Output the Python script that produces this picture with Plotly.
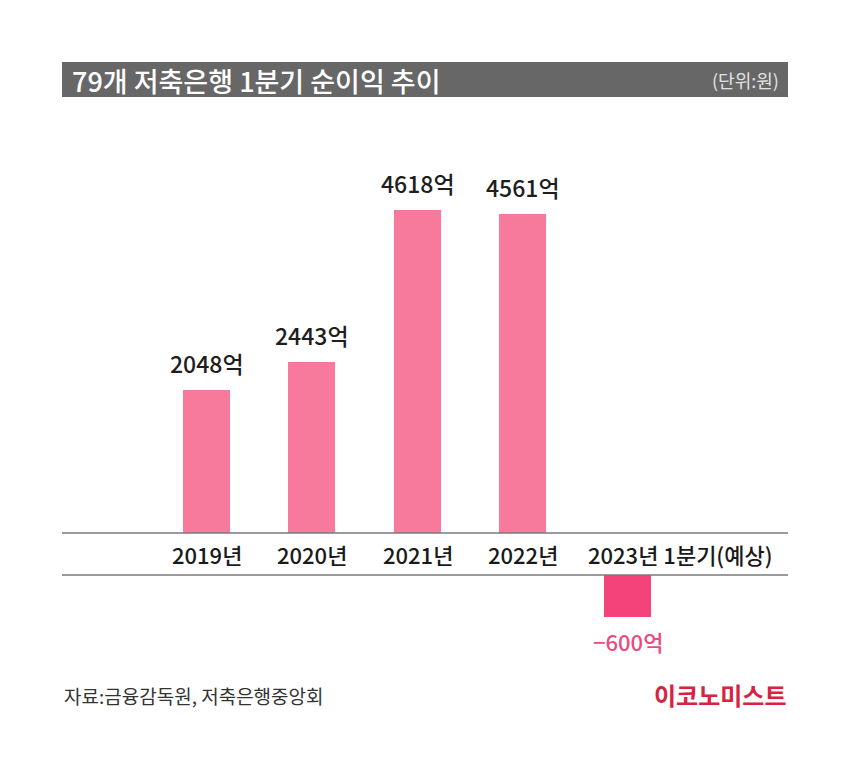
import plotly.graph_objects as go

categories = ['2019년', '2020년', '2021년', '2022년', '2023년 1분기(예상)']
net_income = [2048, 2443, 4618, 4561, -600]
value_labels = ['2048억', '2443억', '4618억', '4561억', '−600억']

FONT = 'Noto Sans CJK KR'
W, H = 850, 777
PAGE_OFFSET = 8  # default body margin of the page


def px_y(y):
    # screen pixel row -> paper fraction
    return 1 - (y - PAGE_OFFSET) / H


def px_x(x):
    return (x - PAGE_OFFSET) / W


pos = [v if v > 0 else None for v in net_income]
neg = [v if v < 0 else None for v in net_income]

fig = go.Figure()

fig.add_trace(go.Bar(
    x=categories, y=pos, width=0.447,
    marker=dict(color='#F77A9D', line=dict(width=0)),
    xaxis='x', yaxis='y', showlegend=False, hoverinfo='skip'
))
fig.add_trace(go.Bar(
    x=categories, y=neg, width=0.447,
    marker=dict(color='#F4427A', line=dict(width=0)),
    xaxis='x2', yaxis='y2', showlegend=False, hoverinfo='skip'
))

annotations = []

# value labels
for cat, v, lab in zip(categories, net_income, value_labels):
    if v > 0:
        annotations.append(dict(
            x=cat, y=v, xref='x', yref='y', text=lab, showarrow=False,
            yanchor='bottom', yshift=8,
            font=dict(family=FONT, size=23, color='#1e1e1e', weight=500)))
    else:
        annotations.append(dict(
            x=cat, y=v, xref='x2', yref='y2', text=lab, showarrow=False,
            yanchor='top', yshift=-6,
            font=dict(family=FONT, size=22, color='#EC4A7D', weight=500)))

# category labels in the band between the two rules
for i, cat in enumerate(categories):
    last = i == len(categories) - 1
    annotations.append(dict(
        x=cat, y=px_y(554), xref='x', yref='paper', text=cat, showarrow=False,
        xanchor='left' if last else 'center', xshift=-42 if last else 0,
        yanchor='middle',
        font=dict(family=FONT, size=22, color='#1a1a1a', weight=500)))

# title and unit
annotations.append(dict(
    x=px_x(70), y=px_y(80), xref='paper', yref='paper',
    text='79개 저축은행 1분기 순이익 추이', showarrow=False,
    xanchor='left', yanchor='middle',
    font=dict(family=FONT, size=27, color='white', weight=500)))
annotations.append(dict(
    x=px_x(781), y=px_y(80), xref='paper', yref='paper',
    text='(단위:원)', showarrow=False, xanchor='right', yanchor='middle',
    font=dict(family=FONT, size=18, color='#e2e2e2')))

# source and logo
annotations.append(dict(
    x=px_x(62), y=px_y(695), xref='paper', yref='paper',
    text='자료:금융감독원, 저축은행중앙회', showarrow=False,
    xanchor='left', yanchor='middle',
    font=dict(family=FONT, size=19, color='#333333')))
annotations.append(dict(
    x=px_x(788), y=px_y(694), xref='paper', yref='paper',
    text='<b>이코노미스트</b>', showarrow=False,
    xanchor='right', yanchor='middle',
    font=dict(family=FONT, size=24, color='#D8223F')))

shapes = [
    dict(type='rect', xref='paper', yref='paper',
         x0=px_x(62), x1=px_x(788), y0=px_y(97), y1=px_y(62),
         fillcolor='#676767', line=dict(width=0), layer='below'),
    dict(type='line', xref='paper', yref='paper',
         x0=px_x(62), x1=px_x(788), y0=px_y(533), y1=px_y(533),
         line=dict(color='#7a7a7a', width=1.5)),
    dict(type='line', xref='paper', yref='paper',
         x0=px_x(62), x1=px_x(788), y0=px_y(575), y1=px_y(575),
         line=dict(color='#7a7a7a', width=1.5)),
]

units_per_px = 4618 / 323
xdom = [px_x(154.4), px_x(680.6)]
xcommon = dict(domain=xdom, range=[-0.5, 4.5], type='category',
               categoryorder='array', categoryarray=categories,
               showticklabels=False, showgrid=False, zeroline=False,
               showline=False, fixedrange=True)

fig.update_layout(
    width=W, height=H,
    margin=dict(l=0, r=0, t=0, b=0),
    paper_bgcolor='white', plot_bgcolor='white',
    bargap=0,
    xaxis=xcommon,
    xaxis2=dict(xcommon, anchor='y2'),
    yaxis=dict(domain=[px_y(533), px_y(120)],
               range=[0, (533 - 120) * units_per_px],
               visible=False, fixedrange=True),
    yaxis2=dict(domain=[px_y(650), px_y(575)],
                range=[-(650 - 575) * units_per_px, 0],
                visible=False, fixedrange=True),
    annotations=annotations,
    shapes=shapes,
)

fig.write_html('out.html')
